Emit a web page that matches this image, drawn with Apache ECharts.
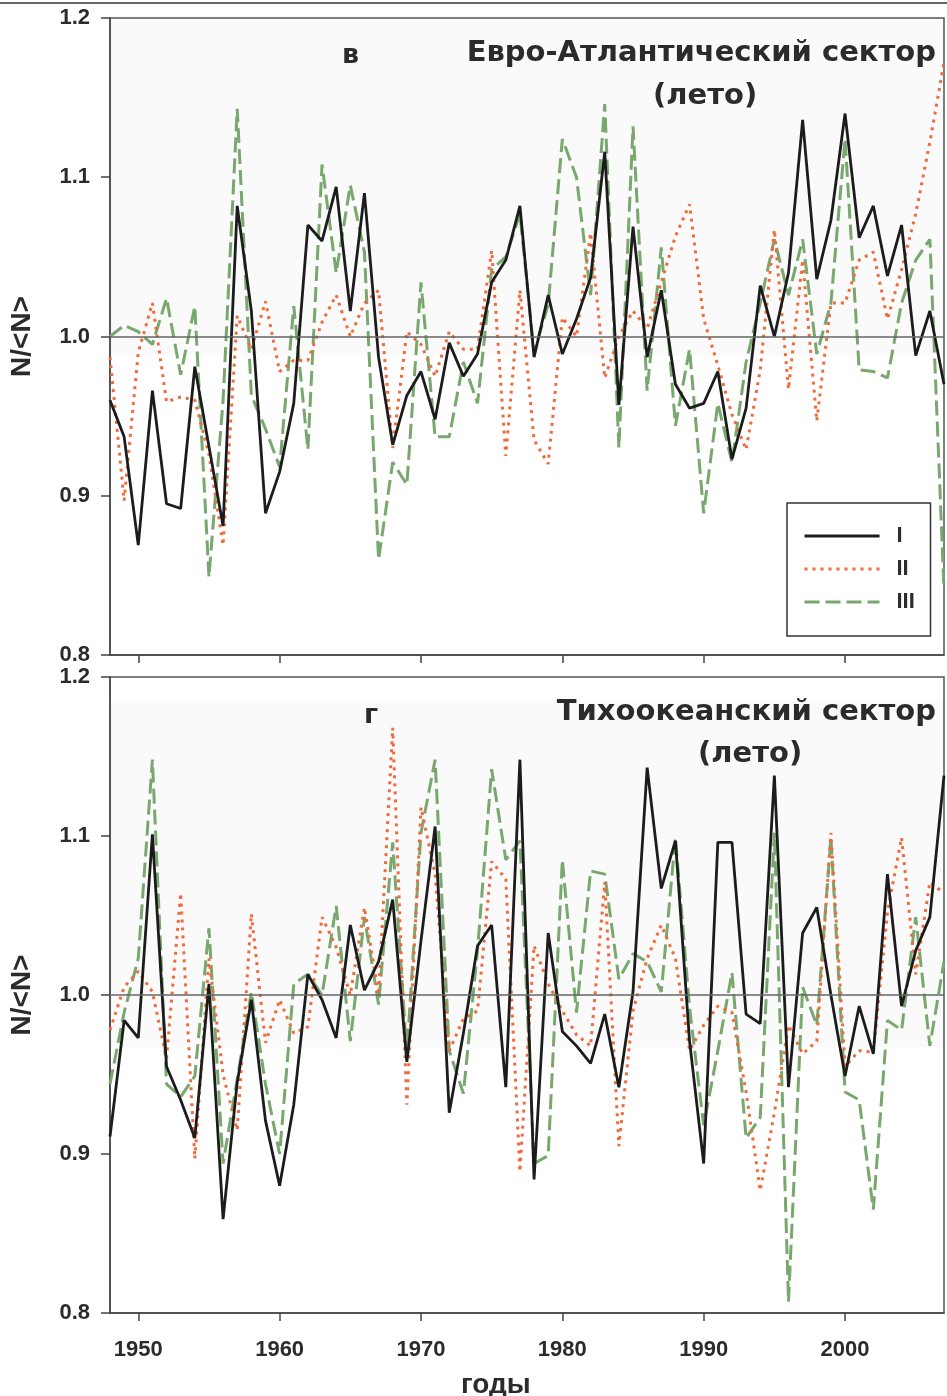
<!DOCTYPE html>
<html>
<head>
<meta charset="utf-8">
<script src="https://cdn.jsdelivr.net/npm/echarts@6/dist/echarts.min.js"></script>
<style>
  html, body { margin: 0; padding: 0; background: #fff; }
  #chart { width: 947px; height: 1396px; }
</style>
</head>
<body>
<div id="chart"></div>
<script>
// Years on the x axis
const years = [];
for (let y = 1948; y <= 2007; y++) years.push(String(y));
const yearTicks = ['1950', '1960', '1970', '1980', '1990', '2000'];

// Euro-Atlantic sector, summer
const euroI = [0.960,0.937,0.869,0.966,0.895,0.892,0.981,0.931,0.881,1.082,
  1.016,0.889,0.915,0.958,1.070,1.060,1.094,1.016,1.090,0.987,
  0.932,0.963,0.978,0.948,0.996,0.975,0.989,1.034,1.048,1.082,
  0.987,1.026,0.989,1.011,1.037,1.116,0.957,1.069,0.987,1.029,
  0.970,0.955,0.958,0.978,0.923,0.955,1.032,1.000,1.040,1.136,
  1.036,1.073,1.140,1.062,1.082,1.038,1.070,0.988,1.016,0.970];
const euroII = [0.987,0.897,0.990,1.021,0.959,0.962,0.960,0.926,0.869,1.013,
  0.992,1.022,0.978,0.985,0.985,1.009,1.026,1.000,1.021,1.029,
  0.930,1.003,0.995,0.975,1.003,0.992,0.992,1.054,0.925,1.029,
  0.935,0.920,1.012,1.000,1.065,0.974,1.000,1.016,1.005,1.034,
  1.063,1.083,1.011,0.982,0.951,0.929,0.979,1.067,0.967,1.048,
  0.947,1.021,1.021,1.048,1.053,1.011,1.042,1.077,1.122,1.172];
const euroIII = [1.000,1.007,1.003,0.995,1.024,0.976,1.019,0.849,0.960,1.143,
  0.963,0.942,0.918,1.019,0.929,1.108,1.040,1.095,1.053,0.860,
  0.921,0.907,1.034,0.937,0.937,0.984,0.958,1.042,1.050,1.077,
  0.990,1.020,1.124,1.100,1.026,1.146,0.930,1.132,0.966,1.056,
  0.944,0.992,0.889,0.958,0.921,0.984,1.021,1.061,1.026,1.061,
  0.989,1.021,1.124,0.979,0.978,0.974,1.021,1.048,1.061,0.841];

// Pacific sector, summer
const pacI = [0.911,0.984,0.973,1.101,0.955,0.934,0.910,1.007,0.859,0.945,
  0.997,0.921,0.880,0.931,1.013,0.997,0.973,1.044,1.003,1.021,
  1.060,0.958,1.034,1.106,0.926,0.976,1.031,1.044,0.942,1.148,
  0.884,1.039,0.977,0.968,0.957,0.988,0.942,1.002,1.143,1.067,
  1.097,0.971,0.894,1.096,1.096,0.988,0.982,1.138,0.942,1.039,
  1.055,1.000,0.949,0.993,0.963,1.076,0.993,1.028,1.049,1.138];
const pacII = [0.978,1.005,1.015,1.002,0.960,1.064,0.897,1.023,0.950,0.915,
  1.051,0.970,0.997,0.976,0.980,1.049,1.030,1.000,1.055,1.000,
  1.168,0.931,1.118,1.076,0.965,0.985,0.990,1.084,1.073,0.889,
  1.031,1.007,0.990,0.975,0.968,1.071,0.905,0.990,1.023,1.044,
  1.023,0.965,0.981,0.993,0.989,0.939,0.877,0.926,0.981,0.963,
  0.971,1.102,0.955,0.965,0.964,1.052,1.099,1.013,1.071,1.064];
const pacIII = [0.944,0.989,1.023,1.148,0.944,0.936,0.949,1.042,0.894,0.947,
  1.002,0.944,0.900,1.007,1.013,1.000,1.056,0.971,1.049,0.994,
  1.096,0.963,1.102,1.148,0.965,0.938,1.028,1.142,1.085,1.097,
  0.894,0.899,1.085,0.989,1.078,1.076,1.010,1.026,1.021,1.002,
  1.099,0.992,0.918,0.965,1.014,0.910,0.923,1.102,0.807,1.005,
  0.981,1.099,0.939,0.934,0.865,0.984,0.978,1.049,0.968,1.021];

const C_I = '#1c1c1c', C_II = '#f06b3c', C_III = '#78a86e';
const sans = "'Liberation Sans', Arial, sans-serif";
const heavy = "'DejaVu Sans', 'Liberation Sans', sans-serif";
const ink = '#2b2b2b';

function xAxis(gridIndex, showLabels) {
  return {
    type: 'category', gridIndex, data: years, boundaryGap: false,
    axisLine: { show: true, lineStyle: { color: '#444', width: 1.5 } },
    axisTick: { show: true, inside: false, length: 8,
      interval: (i, v) => yearTicks.includes(v), lineStyle: { color: '#444', width: 1.5 } },
    axisLabel: { show: showLabels, interval: (i, v) => yearTicks.includes(v), margin: 26,
      color: ink, fontFamily: sans, fontWeight: 'bold', fontSize: 22 },
    splitLine: { show: false }
  };
}
function yAxis(gridIndex) {
  return {
    type: 'value', gridIndex, min: 0.8, max: 1.2, interval: 0.1,
    axisLine: { show: true, lineStyle: { color: '#555', width: 2 } },
    axisTick: { show: true, inside: false, length: 9, lineStyle: { color: '#444', width: 1.5 } },
    axisLabel: { margin: 20, color: ink, fontFamily: sans, fontWeight: 'bold', fontSize: 22,
      formatter: v => v.toFixed(1) },
    splitLine: { show: false },
    name: 'N/<N>', nameLocation: 'middle', nameGap: 74, nameRotate: 90,
    nameTextStyle: { color: ink, fontFamily: sans, fontWeight: 'bold', fontSize: 28 }
  };
}
function lines(idx, dI, dII, dIII, shade) {
  return [
    { name: 'III', type: 'line', xAxisIndex: idx, yAxisIndex: idx, data: dIII,
      symbol: 'none', z: 2, color: C_III,
      lineStyle: { color: C_III, width: 3, type: [15, 6] },
      markArea: { silent: true, itemStyle: { color: 'rgba(0,0,0,0.02)' },
        data: [[{ yAxis: shade[0] }, { yAxis: shade[1] }]] } },
    { name: 'II', type: 'line', xAxisIndex: idx, yAxisIndex: idx, data: dII,
      symbol: 'none', z: 3, color: C_II,
      lineStyle: { color: C_II, width: 3, type: [3, 5] } },
    { name: 'I', type: 'line', xAxisIndex: idx, yAxisIndex: idx, data: dI,
      symbol: 'none', z: 4, color: C_I,
      lineStyle: { color: C_I, width: 2.8, type: 'solid' },
      markLine: { silent: true, symbol: 'none', label: { show: false },
        lineStyle: { color: '#666', width: 1.5, type: 'solid' }, data: [{ yAxis: 1.0 }] } }
  ];
}

const titleStyle = { color: ink, fontFamily: heavy, fontWeight: 'bold', fontSize: 29 };
const letterStyle = Object.assign({}, titleStyle, { fontSize: 27 });

const chart = echarts.init(document.getElementById('chart'), null, { renderer: 'canvas' });
chart.setOption({
  animation: false,
  backgroundColor: '#fff',
  grid: [
    { left: 110, right: 3, top: 18, height: 637, outerBoundsMode: 'none', containLabel: false,
      show: true, borderColor: '#555', borderWidth: 1.5, backgroundColor: 'transparent' },
    { left: 110, right: 3, top: 677, height: 636, outerBoundsMode: 'none', containLabel: false,
      show: true, borderColor: '#555', borderWidth: 1.5, backgroundColor: 'transparent' }
  ],
  title: [
    { text: 'Евро-Атлантический сектор', right: 6, top: 34, textStyle: titleStyle },
    { text: '(лето)', left: 648, top: 77, textStyle: titleStyle },
    { text: 'в', left: 337, top: 37, textStyle: letterStyle },
    { text: 'Тихоокеанский сектор', right: 6, top: 693, textStyle: titleStyle },
    { text: '(лето)', left: 693, top: 735, textStyle: titleStyle },
    { text: 'г', left: 359, top: 697, textStyle: letterStyle },
    { text: 'годы', left: 456, top: 1366, textStyle: { color: ink, fontFamily: sans, fontWeight: 'bold', fontSize: 28 } }
  ],
  legend: {
    data: ['I', 'II', 'III'], orient: 'vertical', left: 787, top: 503,
    padding: [22, 14, 23, 16], itemGap: 11, itemWidth: 75, itemHeight: 14,
    backgroundColor: '#fff', borderColor: '#333', borderWidth: 1.5,
    itemStyle: { opacity: 0 },
    lineStyle: { width: 3 },
    textStyle: { color: ink, fontFamily: sans, fontWeight: 'bold', fontSize: 22,
      lineHeight: 20, width: 20, padding: [0, 0, 0, 12] }
  },
  graphic: [
    { type: 'line', shape: { x1: 0, y1: 3, x2: 947, y2: 3 }, style: { stroke: '#333', lineWidth: 1.5 } }
  ],
  xAxis: [xAxis(0, false), xAxis(1, true)],
  yAxis: [yAxis(0), yAxis(1)],
  series: [].concat(
    lines(0, euroI, euroII, euroIII, [0.988, 1.2]),
    lines(1, pacI, pacII, pacIII, [0.967, 1.185])
  )
});
</script>
</body>
</html>
